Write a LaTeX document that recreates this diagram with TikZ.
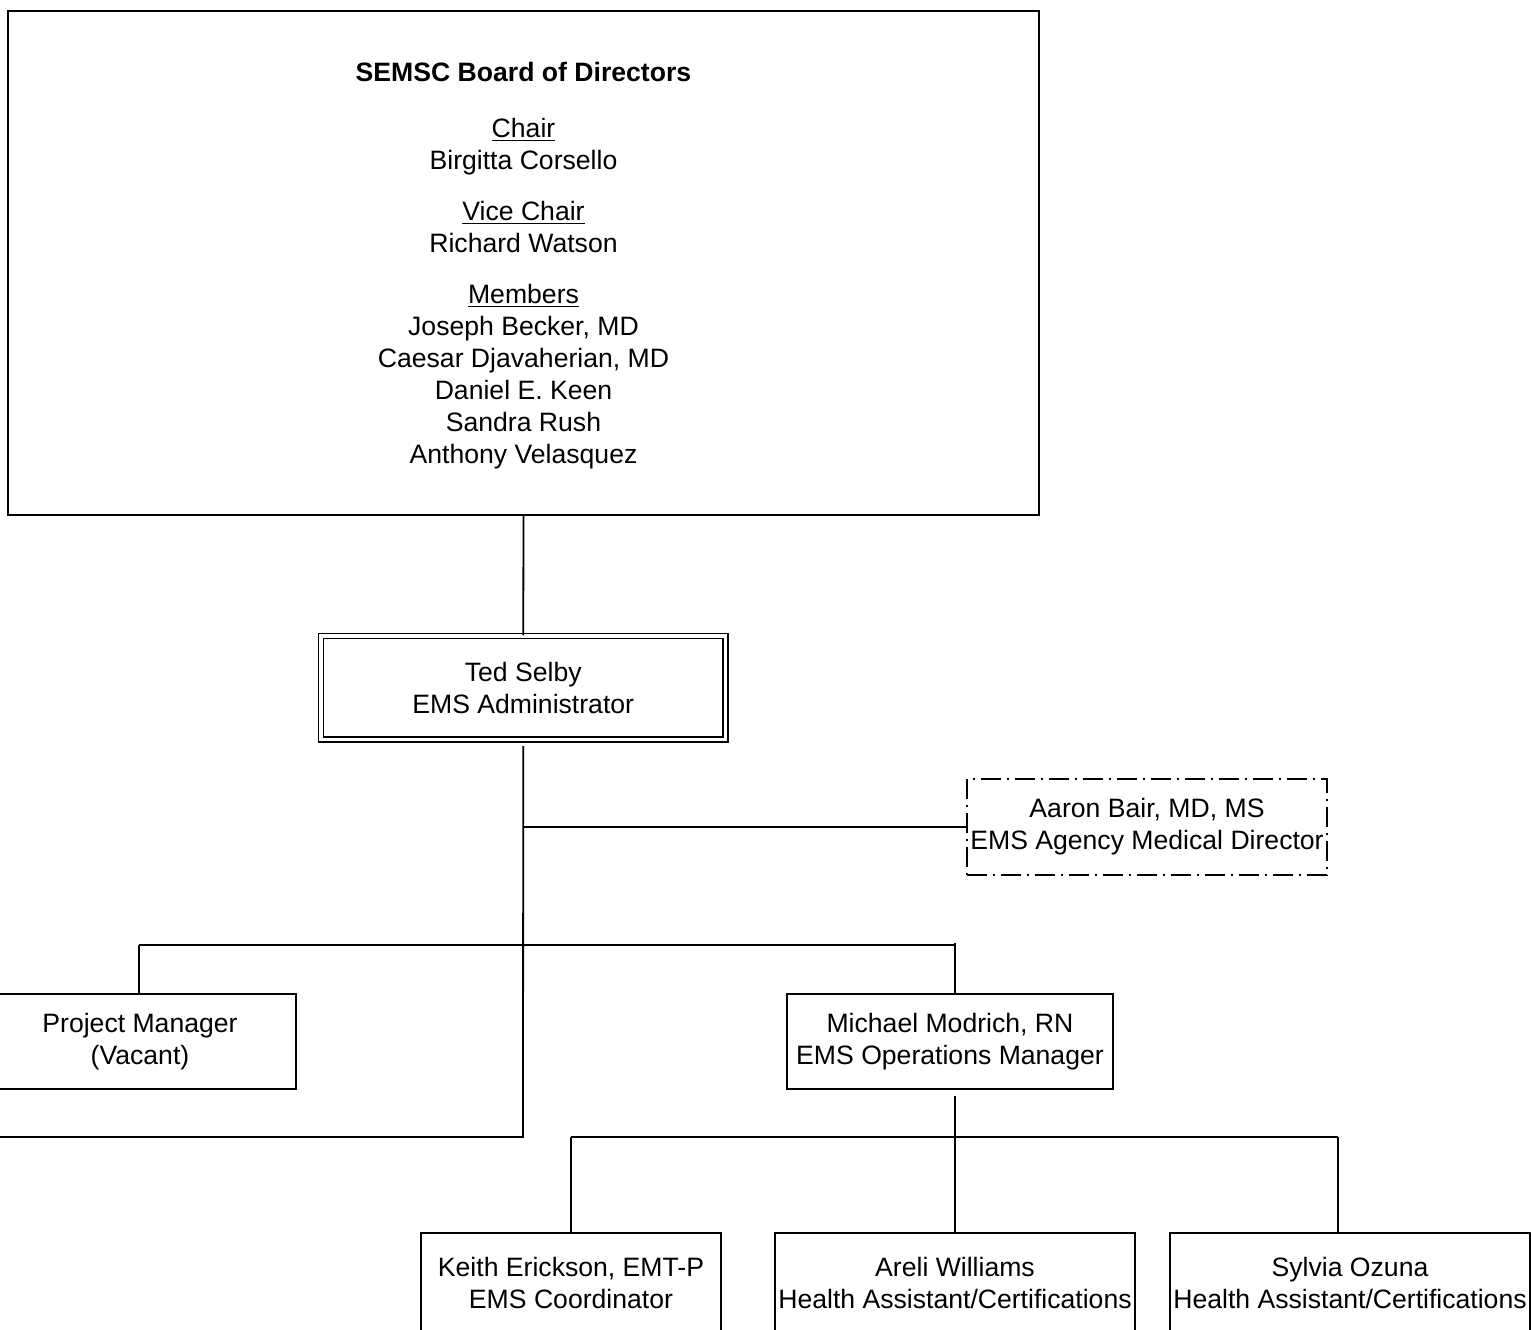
\documentclass[tikz,border=0pt]{standalone}
\usepackage{fontspec}
\setmainfont{Liberation Sans}
\begin{document}
\begin{tikzpicture}[x=0.5pt,y=-0.5pt,
  every node/.style={font=\fontsize{13.3pt}{16pt}\selectfont, align=center, inner sep=0pt},
  plainbox/.style={draw, line width=0.9pt, rectangle},
  conn/.style={line width=0.9pt}]
\useasboundingbox (0,0) rectangle (1531,1329);

% Board of directors
\node[plainbox, line width=1.2pt, minimum width=515.5pt, minimum height=252pt] (board) at (523.5,263)
  {\rule{0pt}{12pt}{\bfseries SEMSC Board of Directors}\\[12pt]
   \underline{Chair}\\ Birgitta Corsello\\[9.5pt]
   \underline{Vice Chair}\\ Richard Watson\\[9.5pt]
   \underline{Members}\\ Joseph Becker, MD\\ Caesar Djavaherian, MD\\ Daniel E. Keen\\ Sandra Rush\\ Anthony Velasquez};

% Administrator (double frame)
\node[draw, double, line width=0.7pt, double distance=1.8pt, minimum width=202.25pt, minimum height=51.75pt] (ted) at (523.25,687.75)
  {Ted Selby\\ EMS Administrator};

% Medical director (dash-dot)
\node[draw, line width=0.7pt, dash pattern=on 10pt off 3pt on 1pt off 3pt, minimum width=180pt, minimum height=48pt] (aaron) at (1147,827)
  {Aaron Bair, MD, MS\\ EMS Agency Medical Director};

% Managers
\node[plainbox, minimum width=156pt, minimum height=47.5pt] (pm) at (140,1041.5)
  {Project Manager\\ (Vacant)};
\node[plainbox, minimum width=163pt, minimum height=47.5pt] (mm) at (950,1041.5)
  {Michael Modrich, RN\\ EMS Operations Manager};

% Staff
\node[plainbox, minimum width=150pt, minimum height=50pt] (keith) at (571,1283)
  {Keith Erickson, EMT-P\\ EMS Coordinator};
\node[plainbox, minimum width=180pt, minimum height=50pt] (areli) at (955,1283)
  {Areli Williams\\ Health Assistant/Certifications};
\node[plainbox, minimum width=180pt, minimum height=50pt] (sylvia) at (1350,1283)
  {Sylvia Ozuna\\ Health Assistant/Certifications};

% Junction coordinates
\coordinate (j1) at (523,827);
\coordinate (j3) at (523,1137);
\coordinate (lend) at (0,1137);
\coordinate (bl) at (139,945);
\coordinate (br) at (955,945);
\coordinate (k) at (571,1137);
\coordinate (s) at (1338,1137);

% Connectors
\draw[conn] (board.south) -- (ted.north);
\draw[conn] ([yshift=-3pt]ted.south) -- (j3) -- (lend);
\draw[conn] (j1) -- (aaron.west);
\draw[conn] (bl) -- (br);
\draw[conn] (bl) -- (bl |- pm.north);
\draw[conn] ([yshift=1.2pt]br) -- (br |- mm.north);
\draw[conn] ([yshift=-3pt]mm.south -| areli.north) -- (areli.north);
\draw[conn] (k) -- (s);
\draw[conn] (k) -- (keith.north);
\draw[conn] (s) -- (s |- sylvia.north);
\end{tikzpicture}
\end{document}
